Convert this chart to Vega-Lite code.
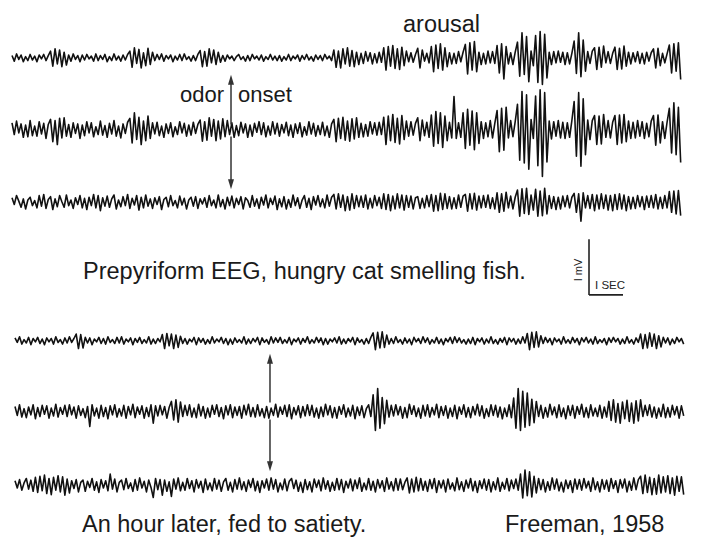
{
  "$schema": "https://vega.github.io/schema/vega-lite/v6.json",
  "description": "Prepyriform EEG of a hungry cat smelling fish (channels a-c) and the same cat an hour later, fed to satiety (channels d-f). 15 samples per second; amplitudes in hundredths of a millivolt; scale bar 1 mV by 1 s.",
  "width": 705,
  "height": 537,
  "autosize": {"type": "fit", "contains": "padding"},
  "padding": 0,
  "background": "white",
  "config": {"view": {"stroke": null}, "font": "Liberation Sans"},
  "datasets": {
    "eeg": [
      {"n":0,"a":4,"b":12,"c":8,"d":5,"e":9,"f":8},
      {"n":1,"a":-6,"b":-9,"c":-4,"d":-3,"e":-7,"f":-5},
      {"n":2,"a":7,"b":15,"c":12,"d":7,"e":12,"f":10},
      {"n":3,"a":-3,"b":-6,"c":2,"d":-6,"e":-10,"f":-9},
      {"n":4,"a":5,"b":10,"c":-9,"d":2,"e":5,"f":4},
      {"n":5,"a":-7,"b":-14,"c":6,"d":-4,"e":-11,"f":12},
      {"n":6,"a":2,"b":8,"c":-12,"d":6,"e":8,"f":-7},
      {"n":7,"a":-5,"b":-13,"c":4,"d":-7,"e":-6,"f":9},
      {"n":8,"a":6,"b":16,"c":9,"d":4,"e":12,"f":-11},
      {"n":9,"a":-4,"b":-11,"c":-6,"d":-2,"e":-13,"f":14},
      {"n":10,"a":3,"b":6,"c":3,"d":6,"e":7,"f":-13},
      {"n":11,"a":-7,"b":-12,"c":-10,"d":-5,"e":-9,"f":16},
      {"n":12,"a":5,"b":14,"c":12,"d":3,"e":11,"f":-10},
      {"n":13,"a":-2,"b":-8,"c":-7,"d":-7,"e":-5,"f":18},
      {"n":14,"a":6,"b":11,"c":14,"d":5,"e":10,"f":-15},
      {"n":15,"a":-5,"b":-16,"c":-11,"d":-2,"e":-12,"f":12},
      {"n":16,"a":4,"b":9,"c":5,"d":4,"e":6,"f":-17},
      {"n":17,"a":12,"b":18,"c":10,"d":-6,"e":-8,"f":14},
      {"n":18,"a":-15,"b":-22,"c":-13,"d":7,"e":13,"f":-9},
      {"n":19,"a":16,"b":16,"c":6,"d":-3,"e":-10,"f":17},
      {"n":20,"a":-11,"b":-27,"c":-8,"d":2,"e":7,"f":-12},
      {"n":21,"a":14,"b":20,"c":12,"d":-6,"e":-5,"f":15},
      {"n":22,"a":-16,"b":-15,"c":1,"d":5,"e":11,"f":-18},
      {"n":23,"a":10,"b":21,"c":-9,"d":-4,"e":-9,"f":11},
      {"n":24,"a":-13,"b":-12,"c":13,"d":7,"e":12,"f":-14},
      {"n":25,"a":5,"b":9,"c":-6,"d":-3,"e":-6,"f":8},
      {"n":26,"a":-6,"b":-14,"c":4,"d":4,"e":8,"f":-6},
      {"n":27,"a":7,"b":12,"c":-11,"d":12,"e":-12,"f":10},
      {"n":28,"a":-3,"b":-7,"c":8,"d":-14,"e":10,"f":-12},
      {"n":29,"a":4,"b":10,"c":-4,"d":11,"e":-7,"f":5},
      {"n":30,"a":-7,"b":-16,"c":12,"d":-13,"e":5,"f":9},
      {"n":31,"a":5,"b":8,"c":-10,"d":6,"e":-11,"f":-11},
      {"n":32,"a":-4,"b":-11,"c":7,"d":-4,"e":9,"f":7},
      {"n":33,"a":6,"b":14,"c":-13,"d":5,"e":-27,"f":-4},
      {"n":34,"a":-2,"b":-6,"c":9,"d":-7,"e":12,"f":12},
      {"n":35,"a":3,"b":12,"c":-6,"d":3,"e":-8,"f":-9},
      {"n":36,"a":-6,"b":-13,"c":14,"d":-2,"e":6,"f":6},
      {"n":37,"a":7,"b":5,"c":-10,"d":6,"e":-12,"f":-13},
      {"n":38,"a":-5,"b":-9,"c":12,"d":-5,"e":11,"f":10},
      {"n":39,"a":4,"b":15,"c":-15,"d":4,"e":-9,"f":-5},
      {"n":40,"a":-3,"b":-10,"c":8,"d":-6,"e":7,"f":8},
      {"n":41,"a":6,"b":7,"c":-7,"d":7,"e":-13,"f":-10},
      {"n":42,"a":-7,"b":-14,"c":11,"d":-3,"e":10,"f":20},
      {"n":43,"a":2,"b":11,"c":-9,"d":2,"e":-6,"f":-7},
      {"n":44,"a":-5,"b":-8,"c":6,"d":-5,"e":12,"f":11},
      {"n":45,"a":7,"b":16,"c":13,"d":6,"e":-10,"f":-12},
      {"n":46,"a":-4,"b":-12,"c":-12,"d":-4,"e":5,"f":5},
      {"n":47,"a":3,"b":6,"c":4,"d":7,"e":-8,"f":9},
      {"n":48,"a":-6,"b":-15,"c":-8,"d":-6,"e":11,"f":-8},
      {"n":49,"a":5,"b":10,"c":10,"d":3,"e":-12,"f":12},
      {"n":50,"a":-4,"b":-7,"c":-6,"d":-2,"e":9,"f":-6},
      {"n":51,"a":6,"b":13,"c":14,"d":5,"e":-6,"f":4},
      {"n":52,"a":12,"b":20,"c":-11,"d":-7,"e":13,"f":-11},
      {"n":53,"a":-17,"b":-24,"c":7,"d":4,"e":-11,"f":10},
      {"n":54,"a":18,"b":30,"c":-5,"d":-3,"e":8,"f":-9},
      {"n":55,"a":-10,"b":-18,"c":12,"d":6,"e":-5,"f":13},
      {"n":56,"a":15,"b":22,"c":-14,"d":-5,"e":10,"f":-5},
      {"n":57,"a":-18,"b":-27,"c":9,"d":2,"e":-12,"f":7},
      {"n":58,"a":9,"b":15,"c":-10,"d":-4,"e":7,"f":-12},
      {"n":59,"a":-14,"b":-20,"c":13,"d":7,"e":-9,"f":9},
      {"n":60,"a":17,"b":24,"c":-7,"d":-6,"e":12,"f":-4},
      {"n":61,"a":-12,"b":-16,"c":6,"d":3,"e":-21,"f":-22},
      {"n":62,"a":10,"b":12,"c":-11,"d":-5,"e":10,"f":12},
      {"n":63,"a":-5,"b":-8,"c":8,"d":4,"e":-8,"f":-8},
      {"n":64,"a":6,"b":13,"c":-4,"d":-2,"e":11,"f":10},
      {"n":65,"a":-3,"b":-11,"c":10,"d":11,"e":-6,"f":-18},
      {"n":66,"a":7,"b":6,"c":-13,"d":-14,"e":9,"f":9},
      {"n":67,"a":-6,"b":-14,"c":5,"d":13,"e":-12,"f":-11},
      {"n":68,"a":4,"b":10,"c":9,"d":-9,"e":7,"f":6},
      {"n":69,"a":-2,"b":-7,"c":-8,"d":12,"e":18,"f":-20},
      {"n":70,"a":5,"b":12,"c":12,"d":-14,"e":-15,"f":11},
      {"n":71,"a":-7,"b":-13,"c":-6,"d":10,"e":21,"f":-7},
      {"n":72,"a":3,"b":5,"c":3,"d":-12,"e":-19,"f":13},
      {"n":73,"a":-4,"b":-9,"c":-10,"d":8,"e":17,"f":-10},
      {"n":74,"a":6,"b":14,"c":11,"d":-5,"e":-9,"f":5},
      {"n":75,"a":-5,"b":-6,"c":-5,"d":4,"e":11,"f":-9},
      {"n":76,"a":7,"b":11,"c":7,"d":-6,"e":-7,"f":12},
      {"n":77,"a":-3,"b":-12,"c":-12,"d":3,"e":12,"f":-6},
      {"n":78,"a":2,"b":8,"c":4,"d":-2,"e":-10,"f":8},
      {"n":79,"a":-6,"b":-10,"c":9,"d":6,"e":6,"f":-12},
      {"n":80,"a":4,"b":13,"c":-7,"d":-7,"e":-11,"f":10},
      {"n":81,"a":-5,"b":-7,"c":10,"d":5,"e":13,"f":-5},
      {"n":82,"a":6,"b":9,"c":-11,"d":-3,"e":-8,"f":7},
      {"n":83,"a":13,"b":17,"c":6,"d":4,"e":9,"f":-13},
      {"n":84,"a":-16,"b":-21,"c":-3,"d":-6,"e":-12,"f":11},
      {"n":85,"a":11,"b":14,"c":8,"d":2,"e":6,"f":-8},
      {"n":86,"a":-15,"b":-19,"c":-9,"d":-5,"e":-10,"f":4},
      {"n":87,"a":16,"b":21,"c":12,"d":7,"e":11,"f":-10},
      {"n":88,"a":-9,"b":-12,"c":-6,"d":-4,"e":-5,"f":12},
      {"n":89,"a":14,"b":18,"c":4,"d":3,"e":12,"f":-7},
      {"n":90,"a":-12,"b":-20,"c":-10,"d":-2,"e":-9,"f":9},
      {"n":91,"a":10,"b":15,"c":13,"d":6,"e":7,"f":-11},
      {"n":92,"a":-8,"b":-17,"c":-8,"d":-5,"e":-13,"f":6},
      {"n":93,"a":4,"b":19,"c":5,"d":4,"e":10,"f":12},
      {"n":94,"a":-6,"b":-13,"c":-12,"d":-7,"e":-6,"f":-9},
      {"n":95,"a":5,"b":16,"c":9,"d":3,"e":12,"f":5},
      {"n":96,"a":-2,"b":-9,"c":-6,"d":-6,"e":-11,"f":-12},
      {"n":97,"a":3,"b":12,"c":11,"d":5,"e":8,"f":10},
      {"n":98,"a":-5,"b":-14,"c":-10,"d":-3,"e":-7,"f":-7},
      {"n":99,"a":2,"b":7,"c":7,"d":2,"e":9,"f":13},
      {"n":100,"a":6,"b":-11,"c":-4,"d":-4,"e":-12,"f":-8},
      {"n":101,"a":-3,"b":13,"c":10,"d":7,"e":11,"f":6},
      {"n":102,"a":2,"b":-6,"c":-12,"d":-6,"e":-6,"f":-11},
      {"n":103,"a":-6,"b":10,"c":8,"d":3,"e":13,"f":9},
      {"n":104,"a":4,"b":-14,"c":3,"d":-5,"e":-9,"f":-4},
      {"n":105,"a":-5,"b":8,"c":-9,"d":4,"e":7,"f":12},
      {"n":106,"a":6,"b":-12,"c":12,"d":-2,"e":-10,"f":-10},
      {"n":107,"a":-2,"b":11,"c":-7,"d":6,"e":12,"f":7},
      {"n":108,"a":3,"b":-5,"c":6,"d":-7,"e":-8,"f":-13},
      {"n":109,"a":-4,"b":14,"c":-11,"d":5,"e":5,"f":8},
      {"n":110,"a":5,"b":-9,"c":9,"d":-3,"e":-11,"f":-5},
      {"n":111,"a":-6,"b":12,"c":-5,"d":2,"e":9,"f":11},
      {"n":112,"a":2,"b":-13,"c":13,"d":-6,"e":-12,"f":-9},
      {"n":113,"a":-3,"b":6,"c":-10,"d":7,"e":6,"f":13},
      {"n":114,"a":6,"b":-10,"c":7,"d":-4,"e":-7,"f":-7},
      {"n":115,"a":-4,"b":14,"c":-4,"d":5,"e":13,"f":10},
      {"n":116,"a":3,"b":-8,"c":11,"d":-3,"e":-10,"f":-12},
      {"n":117,"a":-5,"b":11,"c":-13,"d":6,"e":8,"f":4},
      {"n":118,"a":4,"b":-12,"c":6,"d":-5,"e":-5,"f":-8},
      {"n":119,"a":-6,"b":9,"c":-8,"d":2,"e":11,"f":11},
      {"n":120,"a":2,"b":-6,"c":10,"d":-4,"e":-9,"f":-10},
      {"n":121,"a":-4,"b":13,"c":-12,"d":6,"e":12,"f":7},
      {"n":122,"a":6,"b":-11,"c":5,"d":-7,"e":-13,"f":12},
      {"n":123,"a":-5,"b":8,"c":-9,"d":3,"e":7,"f":-6},
      {"n":124,"a":3,"b":-14,"c":13,"d":-2,"e":-6,"f":9},
      {"n":125,"a":-2,"b":10,"c":-6,"d":5,"e":10,"f":-11},
      {"n":126,"a":5,"b":-7,"c":8,"d":-6,"e":-11,"f":5},
      {"n":127,"a":-6,"b":12,"c":-11,"d":4,"e":9,"f":-13},
      {"n":128,"a":4,"b":-13,"c":4,"d":-3,"e":-8,"f":10},
      {"n":129,"a":-3,"b":5,"c":12,"d":7,"e":12,"f":-8},
      {"n":130,"a":6,"b":-10,"c":-9,"d":-5,"e":-7,"f":6},
      {"n":131,"a":-4,"b":14,"c":7,"d":2,"e":11,"f":-12},
      {"n":132,"a":2,"b":-8,"c":-13,"d":-4,"e":-10,"f":11},
      {"n":133,"a":-6,"b":11,"c":10,"d":6,"e":6,"f":-4},
      {"n":134,"a":5,"b":-12,"c":-5,"d":-3,"e":-12,"f":9},
      {"n":135,"a":-3,"b":7,"c":12,"d":5,"e":8,"f":-10},
      {"n":136,"a":4,"b":-9,"c":-8,"d":-7,"e":-9,"f":13},
      {"n":137,"a":-5,"b":13,"c":6,"d":4,"e":13,"f":-7},
      {"n":138,"a":6,"b":-11,"c":-10,"d":-6,"e":-6,"f":8},
      {"n":139,"a":-2,"b":6,"c":13,"d":3,"e":10,"f":-11},
      {"n":140,"a":3,"b":-14,"c":-7,"d":-2,"e":-11,"f":5},
      {"n":141,"a":-5,"b":10,"c":9,"d":5,"e":7,"f":-9},
      {"n":142,"a":14,"b":18,"c":14,"d":-4,"e":-12,"f":12},
      {"n":143,"a":-17,"b":-22,"c":-12,"d":7,"e":9,"f":-8},
      {"n":144,"a":12,"b":20,"c":15,"d":-6,"e":-5,"f":10},
      {"n":145,"a":-18,"b":-16,"c":-9,"d":3,"e":12,"f":-13},
      {"n":146,"a":16,"b":22,"c":13,"d":-5,"e":-10,"f":7},
      {"n":147,"a":-11,"b":-19,"c":-15,"d":4,"e":6,"f":-5},
      {"n":148,"a":18,"b":15,"c":10,"d":-2,"e":-8,"f":11},
      {"n":149,"a":-15,"b":-21,"c":-14,"d":6,"e":11,"f":-10},
      {"n":150,"a":13,"b":19,"c":15,"d":-7,"e":-13,"f":9},
      {"n":151,"a":-16,"b":-17,"c":-11,"d":5,"e":8,"f":-6},
      {"n":152,"a":10,"b":21,"c":12,"d":-3,"e":-7,"f":13},
      {"n":153,"a":-12,"b":-14,"c":-8,"d":2,"e":10,"f":-11},
      {"n":154,"a":8,"b":11,"c":11,"d":-6,"e":-11,"f":4},
      {"n":155,"a":-10,"b":-13,"c":-9,"d":4,"e":5,"f":-8},
      {"n":156,"a":11,"b":9,"c":13,"d":-5,"e":12,"f":12},
      {"n":157,"a":-6,"b":-12,"c":-12,"d":6,"e":-9,"f":-9},
      {"n":158,"a":9,"b":14,"c":7,"d":14,"e":30,"f":7},
      {"n":159,"a":-11,"b":-8,"c":-10,"d":-16,"e":-34,"f":-12},
      {"n":160,"a":7,"b":12,"c":12,"d":15,"e":41,"f":10},
      {"n":161,"a":-9,"b":-10,"c":-6,"d":-13,"e":-30,"f":-5},
      {"n":162,"a":10,"b":13,"c":9,"d":16,"e":25,"f":8},
      {"n":163,"a":-8,"b":-9,"c":-11,"d":-12,"e":-22,"f":-11},
      {"n":164,"a":18,"b":22,"c":15,"d":10,"e":20,"f":13},
      {"n":165,"a":-22,"b":-27,"c":-13,"d":-6,"e":-10,"f":-7},
      {"n":166,"a":20,"b":24,"c":14,"d":4,"e":11,"f":6},
      {"n":167,"a":-15,"b":-20,"c":-15,"d":-5,"e":-8,"f":-10},
      {"n":168,"a":22,"b":27,"c":11,"d":7,"e":12,"f":12},
      {"n":169,"a":-19,"b":-23,"c":-12,"d":-3,"e":-6,"f":-9},
      {"n":170,"a":16,"b":20,"c":15,"d":2,"e":9,"f":11},
      {"n":171,"a":-21,"b":-26,"c":-10,"d":-6,"e":-12,"f":-8},
      {"n":172,"a":19,"b":25,"c":13,"d":5,"e":7,"f":5},
      {"n":173,"a":-14,"b":-18,"c":-14,"d":-4,"e":-11,"f":13},
      {"n":174,"a":12,"b":15,"c":12,"d":3,"e":13,"f":-14},
      {"n":175,"a":-7,"b":-12,"c":-9,"d":-7,"e":-5,"f":11},
      {"n":176,"a":9,"b":14,"c":11,"d":6,"e":10,"f":-12},
      {"n":177,"a":-8,"b":-10,"c":-12,"d":-2,"e":-9,"f":14},
      {"n":178,"a":6,"b":11,"c":8,"d":4,"e":6,"f":-10},
      {"n":179,"a":17,"b":21,"c":10,"d":-5,"e":-12,"f":12},
      {"n":180,"a":-18,"b":-20,"c":-11,"d":7,"e":11,"f":-9},
      {"n":181,"a":14,"b":17,"c":7,"d":-3,"e":-8,"f":7},
      {"n":182,"a":-6,"b":-11,"c":-10,"d":5,"e":12,"f":-11},
      {"n":183,"a":8,"b":13,"c":12,"d":-6,"e":-10,"f":10},
      {"n":184,"a":-9,"b":-14,"c":-8,"d":2,"e":7,"f":-6},
      {"n":185,"a":20,"b":26,"c":14,"d":-4,"e":-6,"f":12},
      {"n":186,"a":-25,"b":-30,"c":-16,"d":6,"e":13,"f":-13},
      {"n":187,"a":23,"b":32,"c":12,"d":-5,"e":-11,"f":8},
      {"n":188,"a":-19,"b":-25,"c":-15,"d":3,"e":9,"f":-5},
      {"n":189,"a":25,"b":30,"c":16,"d":-7,"e":-7,"f":9},
      {"n":190,"a":-22,"b":-32,"c":-13,"d":4,"e":10,"f":-12},
      {"n":191,"a":18,"b":24,"c":15,"d":-2,"e":-12,"f":11},
      {"n":192,"a":-16,"b":-20,"c":-11,"d":6,"e":6,"f":-7},
      {"n":193,"a":9,"b":13,"c":10,"d":-5,"e":-9,"f":4},
      {"n":194,"a":-11,"b":-15,"c":-12,"d":7,"e":11,"f":-10},
      {"n":195,"a":8,"b":59,"c":8,"d":-3,"e":-13,"f":13},
      {"n":196,"a":-10,"b":-16,"c":-11,"d":5,"e":8,"f":-8},
      {"n":197,"a":11,"b":12,"c":13,"d":-4,"e":-5,"f":6},
      {"n":198,"a":-7,"b":-14,"c":-9,"d":2,"e":12,"f":-11},
      {"n":199,"a":10,"b":30,"c":11,"d":-6,"e":-10,"f":9},
      {"n":200,"a":24,"b":-34,"c":14,"d":3,"e":7,"f":-5},
      {"n":201,"a":-29,"b":36,"c":-16,"d":-5,"e":-11,"f":12},
      {"n":202,"a":27,"b":-28,"c":15,"d":6,"e":9,"f":-10},
      {"n":203,"a":-22,"b":33,"c":-12,"d":-7,"e":-6,"f":7},
      {"n":204,"a":29,"b":-36,"c":16,"d":4,"e":13,"f":-13},
      {"n":205,"a":-25,"b":30,"c":-14,"d":-2,"e":-8,"f":8},
      {"n":206,"a":10,"b":-25,"c":11,"d":5,"e":10,"f":-6},
      {"n":207,"a":-12,"b":14,"c":-10,"d":-6,"e":-12,"f":11},
      {"n":208,"a":8,"b":-16,"c":12,"d":3,"e":5,"f":-9},
      {"n":209,"a":-11,"b":12,"c":-9,"d":-4,"e":-9,"f":10},
      {"n":210,"a":12,"b":-13,"c":13,"d":7,"e":12,"f":-12},
      {"n":211,"a":-9,"b":16,"c":-11,"d":-5,"e":-7,"f":6},
      {"n":212,"a":11,"b":-15,"c":8,"d":2,"e":11,"f":-8},
      {"n":213,"a":-10,"b":11,"c":-12,"d":-6,"e":-10,"f":13},
      {"n":214,"a":22,"b":34,"c":17,"d":4,"e":8,"f":-11},
      {"n":215,"a":-27,"b":-40,"c":-18,"d":-3,"e":-13,"f":5},
      {"n":216,"a":25,"b":38,"c":15,"d":6,"e":6,"f":-7},
      {"n":217,"a":-38,"b":-37,"c":-16,"d":-7,"e":-9,"f":12},
      {"n":218,"a":20,"b":40,"c":18,"d":5,"e":12,"f":-10},
      {"n":219,"a":-11,"b":-15,"c":-10,"d":-2,"e":-11,"f":9},
      {"n":220,"a":9,"b":16,"c":11,"d":4,"e":24,"f":-6},
      {"n":221,"a":-12,"b":-13,"c":-12,"d":-6,"e":-30,"f":11},
      {"n":222,"a":10,"b":14,"c":9,"d":3,"e":41,"f":-9},
      {"n":223,"a":28,"b":45,"c":22,"d":-5,"e":-34,"f":20},
      {"n":224,"a":-33,"b":-55,"c":-25,"d":7,"e":36,"f":-23},
      {"n":225,"a":45,"b":68,"c":24,"d":-4,"e":-28,"f":27},
      {"n":226,"a":-30,"b":-60,"c":-20,"d":13,"e":33,"f":-19},
      {"n":227,"a":38,"b":62,"c":25,"d":-16,"e":-25,"f":24},
      {"n":228,"a":-43,"b":-71,"c":-22,"d":15,"e":22,"f":-21},
      {"n":229,"a":12,"b":18,"c":13,"d":-12,"e":-20,"f":16},
      {"n":230,"a":-14,"b":-16,"c":-14,"d":16,"e":18,"f":-14},
      {"n":231,"a":40,"b":60,"c":23,"d":-11,"e":-9,"f":12},
      {"n":232,"a":-44,"b":-65,"c":-25,"d":9,"e":11,"f":-8},
      {"n":233,"a":47,"b":71,"c":20,"d":-5,"e":-12,"f":10},
      {"n":234,"a":-48,"b":-84,"c":-24,"d":6,"e":7,"f":-12},
      {"n":235,"a":42,"b":66,"c":25,"d":-3,"e":-10,"f":6},
      {"n":236,"a":-36,"b":-58,"c":-21,"d":4,"e":13,"f":-9},
      {"n":237,"a":10,"b":15,"c":12,"d":-7,"e":-6,"f":13},
      {"n":238,"a":-12,"b":-17,"c":-11,"d":5,"e":8,"f":-7},
      {"n":239,"a":11,"b":14,"c":10,"d":-2,"e":-11,"f":11},
      {"n":240,"a":-9,"b":-12,"c":-13,"d":3,"e":12,"f":-10},
      {"n":241,"a":12,"b":16,"c":9,"d":-6,"e":-9,"f":5},
      {"n":242,"a":-8,"b":-15,"c":-12,"d":7,"e":6,"f":-12},
      {"n":243,"a":10,"b":13,"c":11,"d":-4,"e":-13,"f":9},
      {"n":244,"a":-12,"b":-16,"c":-8,"d":2,"e":10,"f":-6},
      {"n":245,"a":9,"b":12,"c":12,"d":-5,"e":-7,"f":8},
      {"n":246,"a":-11,"b":-14,"c":-10,"d":6,"e":11,"f":-13},
      {"n":247,"a":8,"b":16,"c":9,"d":-3,"e":-12,"f":11},
      {"n":248,"a":30,"b":50,"c":16,"d":4,"e":9,"f":-7},
      {"n":249,"a":-28,"b":-48,"c":-18,"d":-7,"e":-5,"f":10},
      {"n":250,"a":45,"b":66,"c":15,"d":5,"e":13,"f":-9},
      {"n":251,"a":-34,"b":-66,"c":-34,"d":-2,"e":-10,"f":12},
      {"n":252,"a":32,"b":55,"c":17,"d":6,"e":7,"f":-5},
      {"n":253,"a":-24,"b":-45,"c":-10,"d":-4,"e":-11,"f":7},
      {"n":254,"a":11,"b":17,"c":12,"d":3,"e":12,"f":-11},
      {"n":255,"a":-10,"b":-18,"c":-11,"d":-6,"e":-8,"f":13},
      {"n":256,"a":12,"b":16,"c":14,"d":7,"e":6,"f":-8},
      {"n":257,"a":18,"b":25,"c":-15,"d":-5,"e":-9,"f":6},
      {"n":258,"a":-21,"b":-27,"c":13,"d":2,"e":11,"f":-12},
      {"n":259,"a":19,"b":24,"c":-12,"d":-3,"e":-12,"f":10},
      {"n":260,"a":-17,"b":-26,"c":15,"d":4,"e":8,"f":-7},
      {"n":261,"a":21,"b":27,"c":-11,"d":-7,"e":-10,"f":9},
      {"n":262,"a":-9,"b":-14,"c":13,"d":5,"e":18,"f":-11},
      {"n":263,"a":11,"b":16,"c":-14,"d":-3,"e":-16,"f":12},
      {"n":264,"a":-10,"b":-15,"c":12,"d":6,"e":21,"f":-6},
      {"n":265,"a":8,"b":13,"c":-15,"d":-2,"e":-19,"f":8},
      {"n":266,"a":19,"b":25,"c":14,"d":4,"e":14,"f":-13},
      {"n":267,"a":-21,"b":-27,"c":-13,"d":-6,"e":-21,"f":10},
      {"n":268,"a":17,"b":26,"c":15,"d":3,"e":17,"f":-5},
      {"n":269,"a":-20,"b":-24,"c":-12,"d":-5,"e":-13,"f":11},
      {"n":270,"a":21,"b":27,"c":13,"d":7,"e":20,"f":-12},
      {"n":271,"a":-15,"b":-22,"c":-15,"d":-4,"e":-18,"f":7},
      {"n":272,"a":10,"b":15,"c":10,"d":2,"e":15,"f":-9},
      {"n":273,"a":-11,"b":-16,"c":-12,"d":-6,"e":-21,"f":13},
      {"n":274,"a":9,"b":13,"c":9,"d":5,"e":19,"f":-8},
      {"n":275,"a":-7,"b":-15,"c":-11,"d":-3,"e":-17,"f":10},
      {"n":276,"a":11,"b":16,"c":12,"d":12,"e":21,"f":16},
      {"n":277,"a":-10,"b":-12,"c":-8,"d":-14,"e":-9,"f":-15},
      {"n":278,"a":8,"b":14,"c":10,"d":11,"e":11,"f":18},
      {"n":279,"a":-11,"b":-16,"c":-13,"d":-13,"e":-7,"f":-13},
      {"n":280,"a":10,"b":11,"c":11,"d":14,"e":12,"f":14},
      {"n":281,"a":-6,"b":-13,"c":-9,"d":-10,"e":-10,"f":-17},
      {"n":282,"a":9,"b":15,"c":12,"d":12,"e":8,"f":12},
      {"n":283,"a":16,"b":25,"c":-10,"d":-14,"e":-12,"f":-16},
      {"n":284,"a":-18,"b":-28,"c":14,"d":9,"e":6,"f":18},
      {"n":285,"a":17,"b":26,"c":-12,"d":-11,"e":-9,"f":-14},
      {"n":286,"a":-14,"b":-24,"c":9,"d":6,"e":13,"f":15},
      {"n":287,"a":8,"b":14,"c":-11,"d":-4,"e":-11,"f":-12},
      {"n":288,"a":-9,"b":-16,"c":12,"d":5,"e":7,"f":17},
      {"n":289,"a":7,"b":13,"c":-10,"d":-7,"e":-10,"f":-15},
      {"n":290,"a":23,"b":38,"c":19,"d":3,"e":11,"f":13},
      {"n":291,"a":-27,"b":-42,"c":-18,"d":-5,"e":-6,"f":-18},
      {"n":292,"a":25,"b":48,"c":20,"d":6,"e":9,"f":16},
      {"n":293,"a":-24,"b":-45,"c":-21,"d":-2,"e":-12,"f":-11},
      {"n":294,"a":27,"b":40,"c":21,"d":4,"e":10,"f":15},
      {"n":295,"a":-39,"b":-59,"c":-24,"d":-6,"e":-8,"f":-17}
    ]
  },
  "layer": [
    {
      "data": {"name": "eeg"},
      "mark": {"type": "line", "color": "#111111", "strokeWidth": 1.6, "strokeJoin": "round"},
      "encoding": {
        "x": {"field": "n", "type": "quantitative", "axis": null, "scale": {"domain": [-5.294, 305.735], "nice": false, "zero": false}},
        "y": {"field": "a", "type": "quantitative", "axis": null, "scale": {"domain": [-855.4, 103.6], "nice": false, "zero": false}}
      }
    },
    {
      "data": {"name": "eeg"},
      "mark": {"type": "line", "color": "#111111", "strokeWidth": 1.6, "strokeJoin": "round"},
      "encoding": {
        "x": {"field": "n", "type": "quantitative", "axis": null, "scale": {"domain": [-5.294, 305.735], "nice": false, "zero": false}},
        "y": {"field": "b", "type": "quantitative", "axis": null, "scale": {"domain": [-726.8, 232.1], "nice": false, "zero": false}}
      }
    },
    {
      "data": {"name": "eeg"},
      "mark": {"type": "line", "color": "#111111", "strokeWidth": 1.6, "strokeJoin": "round"},
      "encoding": {
        "x": {"field": "n", "type": "quantitative", "axis": null, "scale": {"domain": [-5.294, 305.735], "nice": false, "zero": false}},
        "y": {"field": "c", "type": "quantitative", "axis": null, "scale": {"domain": [-596.4, 362.5], "nice": false, "zero": false}}
      }
    },
    {
      "data": {"name": "eeg"},
      "mark": {"type": "line", "color": "#111111", "strokeWidth": 1.6, "strokeJoin": "round"},
      "encoding": {
        "x": {"field": "n", "type": "quantitative", "axis": null, "scale": {"domain": [-6.618, 304.41], "nice": false, "zero": false}},
        "y": {"field": "d", "type": "quantitative", "axis": null, "scale": {"domain": [-348.2, 610.7], "nice": false, "zero": false}}
      }
    },
    {
      "data": {"name": "eeg"},
      "mark": {"type": "line", "color": "#111111", "strokeWidth": 1.6, "strokeJoin": "round"},
      "encoding": {
        "x": {"field": "n", "type": "quantitative", "axis": null, "scale": {"domain": [-6.618, 304.41], "nice": false, "zero": false}},
        "y": {"field": "e", "type": "quantitative", "axis": null, "scale": {"domain": [-221.4, 737.5], "nice": false, "zero": false}}
      }
    },
    {
      "data": {"name": "eeg"},
      "mark": {"type": "line", "color": "#111111", "strokeWidth": 1.6, "strokeJoin": "round"},
      "encoding": {
        "x": {"field": "n", "type": "quantitative", "axis": null, "scale": {"domain": [-6.618, 304.41], "nice": false, "zero": false}},
        "y": {"field": "f", "type": "quantitative", "axis": null, "scale": {"domain": [-89.3, 869.6], "nice": false, "zero": false}}
      }
    },
    {
      "data": {"values": [{}]},
      "layer": [
        {
          "mark": {"type": "text", "fontSize": 23.5, "color": "#1a1a1a", "align": "left", "baseline": "alphabetic"},
          "encoding": {
            "x": {"datum": 172.5, "axis": null, "scale": {"domain": [-5.294, 305.735], "nice": false, "zero": false}},
            "y": {"datum": -57.1, "axis": null, "scale": {"domain": [-958.9, 0], "nice": false, "zero": false}},
            "text": {"value": "arousal"}
          }
        },
        {
          "mark": {"type": "text", "fontSize": 22, "color": "#1a1a1a", "align": "left", "baseline": "alphabetic"},
          "encoding": {
            "x": {"datum": 74.12, "axis": null, "scale": {"domain": [-5.294, 305.735], "nice": false, "zero": false}},
            "y": {"datum": -182.1, "axis": null, "scale": {"domain": [-958.9, 0], "nice": false, "zero": false}},
            "text": {"value": "odor"}
          }
        },
        {
          "mark": {"type": "text", "fontSize": 22, "color": "#1a1a1a", "align": "left", "baseline": "alphabetic"},
          "encoding": {
            "x": {"datum": 99.71, "axis": null, "scale": {"domain": [-5.294, 305.735], "nice": false, "zero": false}},
            "y": {"datum": -182.1, "axis": null, "scale": {"domain": [-958.9, 0], "nice": false, "zero": false}},
            "text": {"value": "onset"}
          }
        },
        {
          "mark": {"type": "text", "fontSize": 23.5, "color": "#1a1a1a", "align": "left", "baseline": "alphabetic"},
          "encoding": {
            "x": {"datum": 31.32, "axis": null, "scale": {"domain": [-5.294, 305.735], "nice": false, "zero": false}},
            "y": {"datum": -500, "axis": null, "scale": {"domain": [-958.9, 0], "nice": false, "zero": false}},
            "text": {"value": "Prepyriform EEG, hungry cat smelling fish."}
          }
        },
        {
          "mark": {"type": "text", "fontSize": 23.5, "color": "#1a1a1a", "align": "left", "baseline": "alphabetic"},
          "encoding": {
            "x": {"datum": 30.88, "axis": null, "scale": {"domain": [-5.294, 305.735], "nice": false, "zero": false}},
            "y": {"datum": -953.6, "axis": null, "scale": {"domain": [-958.9, 0], "nice": false, "zero": false}},
            "text": {"value": "An hour later, fed to satiety."}
          }
        },
        {
          "mark": {"type": "text", "fontSize": 23.5, "color": "#1a1a1a", "align": "left", "baseline": "alphabetic"},
          "encoding": {
            "x": {"datum": 217.5, "axis": null, "scale": {"domain": [-5.294, 305.735], "nice": false, "zero": false}},
            "y": {"datum": -953.6, "axis": null, "scale": {"domain": [-958.9, 0], "nice": false, "zero": false}},
            "text": {"value": "Freeman, 1958"}
          }
        },
        {
          "mark": {"type": "text", "fontSize": 11, "color": "#222222", "align": "center", "baseline": "middle", "angle": 270},
          "encoding": {
            "x": {"datum": 250.15, "axis": null, "scale": {"domain": [-5.294, 305.735], "nice": false, "zero": false}},
            "y": {"datum": -483.9, "axis": null, "scale": {"domain": [-958.9, 0], "nice": false, "zero": false}},
            "text": {"value": "I mV"}
          }
        },
        {
          "mark": {"type": "text", "fontSize": 11.5, "color": "#222222", "align": "left", "baseline": "alphabetic"},
          "encoding": {
            "x": {"datum": 257.2, "axis": null, "scale": {"domain": [-5.294, 305.735], "nice": false, "zero": false}},
            "y": {"datum": -517.9, "axis": null, "scale": {"domain": [-958.9, 0], "nice": false, "zero": false}},
            "text": {"value": "I SEC"}
          }
        },
        {
          "mark": {"type": "rule", "color": "#222222", "strokeWidth": 1.6},
          "encoding": {
            "x": {"datum": 254.56, "axis": null, "scale": {"domain": [-5.294, 305.735], "nice": false, "zero": false}},
            "y": {"datum": -428.6, "axis": null, "scale": {"domain": [-958.9, 0], "nice": false, "zero": false}},
            "y2": {"datum": -528.6}
          }
        },
        {
          "mark": {"type": "rule", "color": "#222222", "strokeWidth": 1.6},
          "encoding": {
            "x": {"datum": 254.56, "axis": null, "scale": {"domain": [-5.294, 305.735], "nice": false, "zero": false}},
            "x2": {"datum": 269.56},
            "y": {"datum": -528.6, "axis": null, "scale": {"domain": [-958.9, 0], "nice": false, "zero": false}}
          }
        },
        {
          "mark": {"type": "rule", "color": "#333333", "strokeWidth": 1.5},
          "encoding": {
            "x": {"datum": 96.62, "axis": null, "scale": {"domain": [-5.294, 305.735], "nice": false, "zero": false}},
            "y": {"datum": -142.9, "axis": null, "scale": {"domain": [-958.9, 0], "nice": false, "zero": false}},
            "y2": {"datum": -223.2}
          }
        },
        {
          "mark": {"type": "rule", "color": "#333333", "strokeWidth": 1.5},
          "encoding": {
            "x": {"datum": 96.62, "axis": null, "scale": {"domain": [-5.294, 305.735], "nice": false, "zero": false}},
            "y": {"datum": -244.6, "axis": null, "scale": {"domain": [-958.9, 0], "nice": false, "zero": false}},
            "y2": {"datum": -330.4}
          }
        },
        {
          "mark": {"type": "rule", "color": "#333333", "strokeWidth": 1.5},
          "encoding": {
            "x": {"datum": 113.82, "axis": null, "scale": {"domain": [-5.294, 305.735], "nice": false, "zero": false}},
            "y": {"datum": -642.9, "axis": null, "scale": {"domain": [-958.9, 0], "nice": false, "zero": false}},
            "y2": {"datum": -721.4}
          }
        },
        {
          "mark": {"type": "rule", "color": "#333333", "strokeWidth": 1.5},
          "encoding": {
            "x": {"datum": 113.82, "axis": null, "scale": {"domain": [-5.294, 305.735], "nice": false, "zero": false}},
            "y": {"datum": -751.8, "axis": null, "scale": {"domain": [-958.9, 0], "nice": false, "zero": false}},
            "y2": {"datum": -835.7}
          }
        },
        {
          "mark": {"type": "point", "shape": "M0,-1L0.6,1L-0.6,1Z", "size": 100, "filled": true, "color": "#333333", "opacity": 1},
          "encoding": {
            "x": {"datum": 96.62, "axis": null, "scale": {"domain": [-5.294, 305.735], "nice": false, "zero": false}},
            "y": {"datum": -142.9, "axis": null, "scale": {"domain": [-958.9, 0], "nice": false, "zero": false}}
          }
        },
        {
          "mark": {"type": "point", "shape": "M0,1L0.6,-1L-0.6,-1Z", "size": 100, "filled": true, "color": "#333333", "opacity": 1},
          "encoding": {
            "x": {"datum": 96.62, "axis": null, "scale": {"domain": [-5.294, 305.735], "nice": false, "zero": false}},
            "y": {"datum": -330.4, "axis": null, "scale": {"domain": [-958.9, 0], "nice": false, "zero": false}}
          }
        },
        {
          "mark": {"type": "point", "shape": "M0,-1L0.6,1L-0.6,1Z", "size": 100, "filled": true, "color": "#333333", "opacity": 1},
          "encoding": {
            "x": {"datum": 113.82, "axis": null, "scale": {"domain": [-5.294, 305.735], "nice": false, "zero": false}},
            "y": {"datum": -642.9, "axis": null, "scale": {"domain": [-958.9, 0], "nice": false, "zero": false}}
          }
        },
        {
          "mark": {"type": "point", "shape": "M0,1L0.6,-1L-0.6,-1Z", "size": 100, "filled": true, "color": "#333333", "opacity": 1},
          "encoding": {
            "x": {"datum": 113.82, "axis": null, "scale": {"domain": [-5.294, 305.735], "nice": false, "zero": false}},
            "y": {"datum": -835.7, "axis": null, "scale": {"domain": [-958.9, 0], "nice": false, "zero": false}}
          }
        }
      ]
    }
  ],
  "resolve": {"scale": {"x": "independent", "y": "independent"}}
}
